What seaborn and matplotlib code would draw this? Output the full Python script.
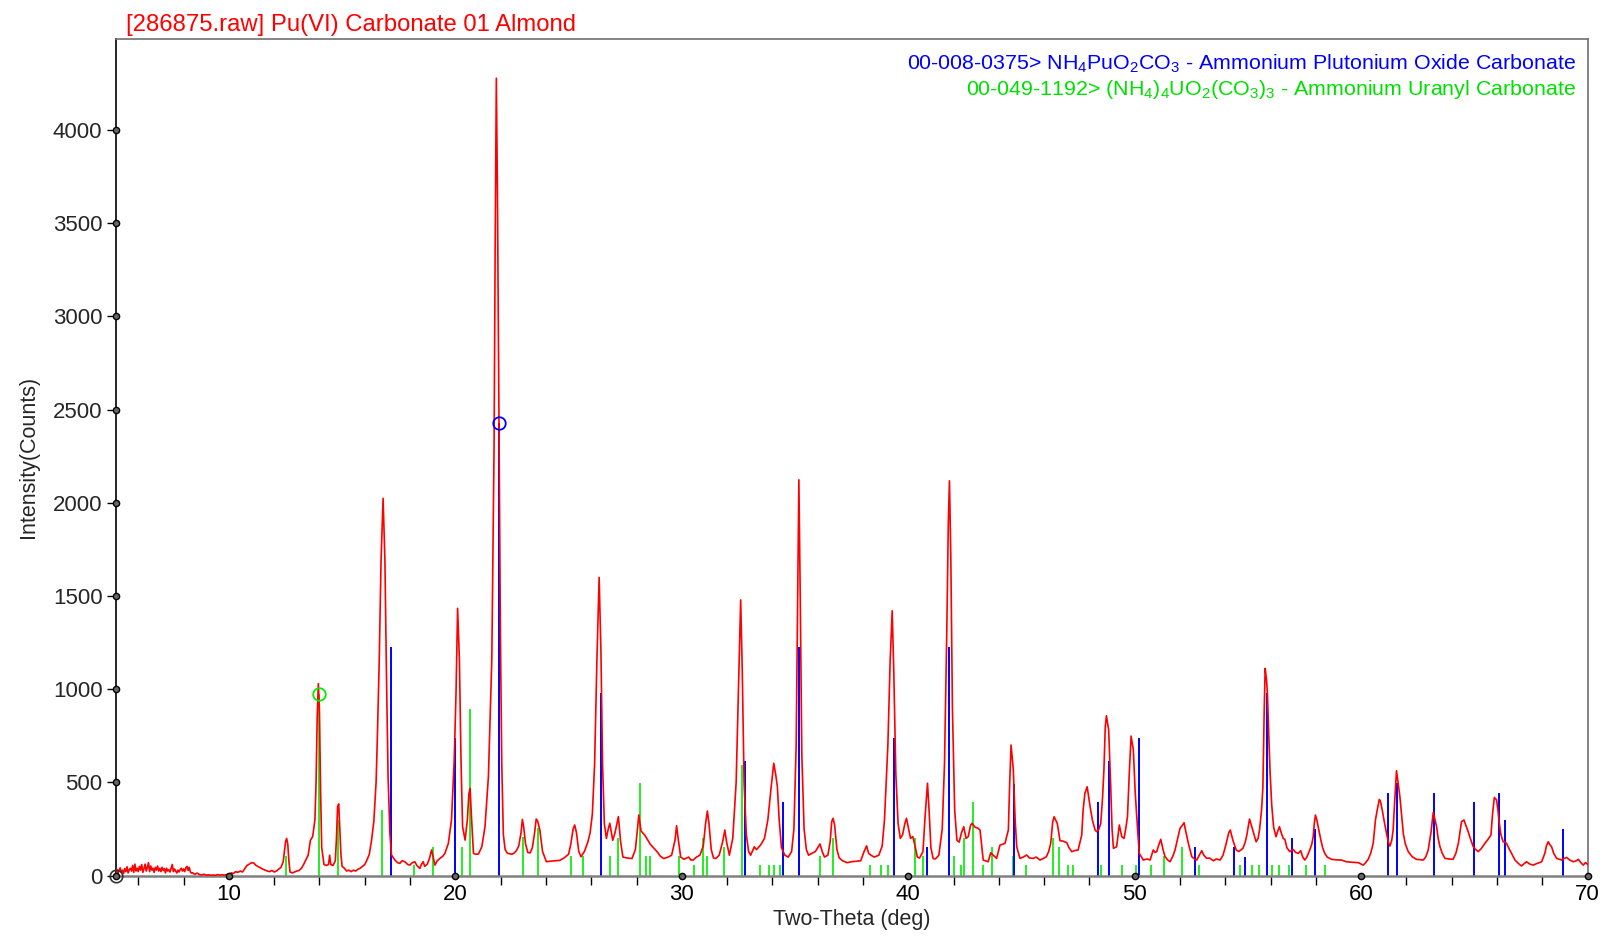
import matplotlib
matplotlib.use("Agg")
import matplotlib.pyplot as plt
import seaborn as sns
import pandas as pd

# ---------------- data ----------------
two_theta = [
    5.00, 5.05, 5.10, 5.15, 5.20, 5.25, 5.30, 5.35, 5.40, 5.45, 5.50, 5.55, 5.60, 5.65, 5.70, 5.75,
    5.80, 5.85, 5.90, 5.95, 6.00, 6.05, 6.10, 6.15, 6.20, 6.25, 6.30, 6.35, 6.40, 6.45, 6.50, 6.55,
    6.60, 6.65, 6.70, 6.75, 6.80, 6.85, 6.90, 6.95, 7.00, 7.05, 7.10, 7.15, 7.20, 7.25, 7.30, 7.35,
    7.40, 7.45, 7.50, 7.55, 7.60, 7.65, 7.70, 7.75, 7.80, 7.85, 7.90, 7.95, 8.00, 8.05, 8.10, 8.15,
    8.20, 8.25, 8.30, 8.35, 8.40, 8.45, 8.50, 8.60, 8.70, 8.80, 8.90, 9.00, 9.10, 9.20, 9.30, 9.40,
    9.50, 9.60, 9.70, 9.80, 9.90, 10.00, 10.10, 10.20, 10.30, 10.40, 10.50, 10.60, 10.70, 10.80,
    10.90, 11.00, 11.10, 11.20, 11.30, 11.40, 11.50, 11.60, 11.70, 11.80, 11.90, 12.00, 12.10,
    12.20, 12.30, 12.40, 12.50, 12.55, 12.60, 12.65, 12.70, 12.80, 12.90, 13.00, 13.10, 13.20,
    13.30, 13.40, 13.50, 13.60, 13.70, 13.80, 13.85, 13.90, 13.95, 14.00, 14.05, 14.10, 14.20,
    14.30, 14.40, 14.45, 14.50, 14.60, 14.70, 14.75, 14.80, 14.85, 14.90, 14.95, 15.00, 15.10,
    15.20, 15.30, 15.40, 15.50, 15.60, 15.70, 15.80, 15.90, 16.00, 16.10, 16.20, 16.30, 16.40,
    16.50, 16.55, 16.64, 16.72, 16.81, 16.89, 16.96, 17.03, 17.11, 17.18, 17.33, 17.45, 17.55,
    17.65, 17.77, 17.90, 17.99, 18.10, 18.21, 18.30, 18.43, 18.50, 18.58, 18.65, 18.76, 18.85,
    18.95, 19.02, 19.10, 19.20, 19.32, 19.45, 19.54, 19.69, 19.83, 19.95, 20.03, 20.10, 20.18,
    20.25, 20.32, 20.43, 20.53, 20.60, 20.65, 20.72, 20.80, 20.90, 21.02, 21.17, 21.31, 21.46,
    21.61, 21.71, 21.76, 21.81, 21.86, 21.93, 21.99, 22.05, 22.12, 22.20, 22.30, 22.40, 22.50,
    22.60, 22.70, 22.80, 22.90, 22.96, 23.02, 23.10, 23.20, 23.30, 23.40, 23.50, 23.57, 23.63,
    23.73, 23.85, 24.02, 24.20, 24.40, 24.60, 24.80, 25.00, 25.10, 25.20, 25.27, 25.35, 25.45,
    25.55, 25.70, 25.85, 25.95, 26.05, 26.15, 26.25, 26.35, 26.43, 26.50, 26.58, 26.67, 26.75,
    26.82, 26.95, 27.05, 27.20, 27.30, 27.40, 27.60, 27.80, 27.95, 28.05, 28.10, 28.20, 28.38,
    28.50, 28.60, 28.75, 28.90, 29.05, 29.20, 29.40, 29.55, 29.70, 29.77, 29.85, 29.95, 30.10,
    30.30, 30.40, 30.50, 30.65, 30.80, 30.95, 31.05, 31.13, 31.20, 31.30, 31.40, 31.50, 31.65,
    31.80, 31.90, 31.98, 32.10, 32.25, 32.40, 32.50, 32.60, 32.67, 32.75, 32.85, 32.95, 33.04,
    33.20, 33.30, 33.48, 33.65, 33.80, 33.95, 34.06, 34.15, 34.22, 34.30, 34.40, 34.55, 34.70,
    34.85, 34.95, 35.05, 35.12, 35.17, 35.23, 35.30, 35.40, 35.50, 35.60, 35.75, 35.90, 36.00,
    36.10, 36.20, 36.30, 36.45, 36.55, 36.62, 36.68, 36.75, 36.85, 36.95, 37.10, 37.30, 37.50,
    37.75, 37.90, 38.05, 38.16, 38.25, 38.35, 38.50, 38.70, 38.85, 38.95, 39.10, 39.20, 39.29,
    39.36, 39.45, 39.55, 39.65, 39.75, 39.85, 39.92, 40.00, 40.10, 40.20, 40.30, 40.40, 40.50,
    40.65, 40.75, 40.85, 40.92, 41.00, 41.10, 41.20, 41.35, 41.50, 41.60, 41.70, 41.77, 41.82,
    41.88, 41.95, 42.05, 42.15, 42.25, 42.35, 42.45, 42.55, 42.65, 42.75, 42.82, 42.95, 43.08,
    43.17, 43.31, 43.53, 43.64, 43.75, 43.90, 44.05, 44.27, 44.42, 44.48, 44.54, 44.64, 44.72,
    44.79, 44.93, 45.08, 45.23, 45.35, 45.52, 45.65, 45.82, 46.00, 46.10, 46.20, 46.29, 46.38,
    46.44, 46.58, 46.70, 46.85, 47.00, 47.10, 47.22, 47.35, 47.50, 47.66, 47.72, 47.80, 47.90,
    48.03, 48.13, 48.25, 48.32, 48.42, 48.50, 48.58, 48.64, 48.70, 48.75, 48.85, 48.94, 49.00,
    49.06, 49.20, 49.32, 49.43, 49.53, 49.60, 49.68, 49.76, 49.84, 49.94, 50.02, 50.09, 50.20,
    50.38, 50.55, 50.68, 50.82, 50.90, 50.97, 51.05, 51.15, 51.25, 51.34, 51.45, 51.56, 51.70,
    51.78, 51.90, 52.00, 52.10, 52.18, 52.25, 52.37, 52.52, 52.64, 52.74, 52.85, 52.96, 53.05,
    53.18, 53.30, 53.48, 53.60, 53.77, 53.90, 54.04, 54.15, 54.22, 54.34, 54.48, 54.60, 54.78,
    54.88, 54.95, 55.07, 55.15, 55.21, 55.36, 55.45, 55.51, 55.60, 55.66, 55.72, 55.76, 55.82,
    55.86, 55.92, 55.98, 56.05, 56.13, 56.24, 56.32, 56.39, 56.47, 56.56, 56.63, 56.72, 56.85,
    57.00, 57.10, 57.22, 57.33, 57.42, 57.51, 57.60, 57.73, 57.82, 57.88, 57.93, 57.98, 58.04,
    58.10, 58.22, 58.30, 58.39, 58.50, 58.69, 58.90, 59.13, 59.35, 59.60, 59.87, 60.00, 60.09,
    60.20, 60.31, 60.42, 60.53, 60.63, 60.72, 60.80, 60.85, 60.93, 61.02, 61.12, 61.20, 61.27,
    61.35, 61.41, 61.48, 61.56, 61.63, 61.71, 61.78, 61.86, 61.95, 62.08, 62.25, 62.35, 62.44,
    62.60, 62.74, 62.85, 62.96, 63.08, 63.18, 63.26, 63.33, 63.40, 63.48, 63.58, 63.70, 63.85,
    64.06, 64.18, 64.29, 64.36, 64.43, 64.54, 64.62, 64.70, 64.82, 64.95, 65.06, 65.17, 65.30,
    65.46, 65.60, 65.73, 65.80, 65.88, 65.98, 66.04, 66.08, 66.17, 66.27, 66.35, 66.42, 66.53,
    66.64, 66.79, 66.95, 67.08, 67.20, 67.30, 67.45, 67.60, 67.75, 67.87, 67.97, 68.05, 68.11,
    68.18, 68.26, 68.34, 68.41, 68.50, 68.63, 68.75, 68.85, 68.95, 69.07, 69.20, 69.37, 69.50,
    69.59, 69.70, 69.81, 69.90, 69.96, 70.00,
]
counts = [
    15, 35, 10, 28, 42, 18, 30, 12, 38, 22, 48, 15, 32, 40, 25, 55,
    18, 62, 25, 40, 22, 50, 30, 60, 18, 38, 62, 25, 45, 70, 22, 52,
    30, 40, 18, 45, 30, 52, 25, 40, 22, 45, 28, 38, 15, 40, 25, 32,
    20, 40, 60, 22, 36, 25, 15, 30, 20, 32, 40, 25, 36, 22, 42, 50,
    28, 45, 20, 14, 16, 10, 8, 14, 6, 4, 8, 3, 5, 2, 4, 2,
    6, 3, 5, 3, 6, 8, 15, 12, 22, 18, 25, 20, 38, 55,
    62, 70, 68, 55, 48, 42, 35, 30, 25, 22, 28, 20, 25,
    35, 45, 75, 180, 200, 170, 80, 20, 15, 20, 25, 28, 40,
    60, 85, 110, 190, 210, 300, 500, 850, 1030, 880, 450, 150, 60,
    55, 60, 110, 60, 55, 80, 200, 370, 385, 250, 110, 50, 40,
    25, 30, 22, 30, 25, 35, 40, 50, 60, 85, 115, 190, 290,
    500, 710, 1157, 1693, 2024, 1693, 1067, 531, 227, 111, 84, 70, 66,
    80, 75, 60, 57, 70, 75, 55, 39, 60, 75, 50, 62, 90,
    138, 100, 57, 80, 93, 105, 120, 173, 299, 620, 978, 1434, 1157,
    620, 263, 191, 299, 440, 469, 299, 120, 115, 116, 156, 263, 531,
    1157, 2300, 3400, 4277, 3650, 2420, 1300, 600, 220, 140, 120, 118, 115,
    122, 135, 160, 230, 302, 260, 170, 125, 122, 150, 230, 304, 295,
    246, 130, 75, 78, 80, 82, 95, 115, 170, 250, 272, 230, 130,
    102, 130, 180, 229, 330, 600, 1150, 1600, 1200, 600, 280, 200, 250,
    281, 190, 230, 317, 180, 100, 95, 92, 140, 260, 326, 240, 215,
    190, 170, 150, 130, 105, 92, 100, 110, 190, 268, 190, 100, 88,
    100, 84, 84, 100, 110, 160, 280, 347, 280, 140, 95, 92, 110,
    180, 245, 180, 110, 200, 500, 1000, 1479, 1100, 500, 220, 130, 110,
    155, 140, 165, 200, 300, 480, 603, 540, 478, 300, 150, 110, 100,
    130, 250, 700, 1500, 2123, 1500, 650, 250, 140, 110, 120, 130, 150,
    170, 130, 100, 110, 180, 290, 308, 270, 140, 96, 80, 70, 75,
    78, 80, 130, 160, 120, 110, 100, 110, 160, 300, 700, 1150, 1421,
    1100, 550, 280, 200, 220, 280, 308, 260, 200, 210, 160, 100, 95,
    130, 330, 496, 350, 150, 92, 90, 110, 250, 600, 1300, 1900, 2118,
    1700, 900, 350, 190, 180, 230, 263, 200, 210, 270, 281, 260, 255,
    245, 84, 75, 123, 110, 93, 164, 173, 245, 500, 701, 567, 300,
    155, 93, 100, 111, 95, 93, 100, 84, 95, 102, 130, 173, 290,
    316, 281, 188, 185, 177, 150, 129, 135, 138, 218, 350, 442, 477,
    370, 299, 245, 236, 250, 281, 420, 567, 800, 858, 781, 477, 250,
    147, 155, 272, 209, 200, 250, 316, 550, 749, 674, 450, 316, 120,
    84, 90, 84, 138, 125, 129, 160, 195, 140, 102, 85, 75, 110,
    138, 200, 254, 270, 284, 240, 173, 102, 90, 84, 110, 134, 110,
    93, 95, 80, 90, 84, 110, 173, 230, 245, 188, 138, 130, 147,
    180, 218, 304, 270, 245, 182, 200, 245, 350, 477, 900, 1112, 1050,
    978, 750, 549, 380, 263, 209, 240, 263, 230, 200, 195, 150, 129,
    141, 125, 120, 134, 100, 84, 100, 138, 170, 209, 280, 325, 300,
    263, 191, 150, 120, 100, 88, 85, 84, 75, 72, 70, 62, 57,
    70, 88, 120, 173, 299, 360, 409, 400, 352, 290, 227, 180, 159,
    190, 245, 400, 563, 500, 424, 330, 227, 170, 129, 102, 95, 88,
    86, 84, 100, 138, 230, 338, 300, 263, 200, 155, 120, 93, 90,
    88, 120, 173, 230, 290, 299, 270, 245, 200, 155, 140, 129, 145,
    173, 195, 218, 330, 420, 406, 350, 299, 220, 182, 180, 173, 145,
    120, 84, 65, 52, 65, 75, 62, 57, 65, 70, 75, 100, 120,
    160, 182, 165, 155, 120, 93, 88, 84, 92, 98, 85, 75, 80,
    88, 70, 57, 70, 66, 60,
]

# 00-008-0375 NH4PuO2CO3 reference lines
pu_pos = [17.15, 19.99, 21.93, 26.45, 32.81, 34.46, 35.18, 39.37, 40.84, 41.82, 44.68, 48.39,
          48.87, 50.18, 52.68, 54.39, 54.89, 55.83, 56.95, 57.98, 61.19, 61.59, 63.20, 64.99,
          66.08, 66.35, 68.92]
pu_int = [1225, 738, 2427, 978, 617, 394, 1225, 737, 156, 1225, 492, 393,
          615, 737, 152, 152, 102, 978, 200, 249, 442, 495, 442, 393,
          442, 299, 249]

# 00-049-1192 (NH4)4UO2(CO3)3 reference lines
u_pos = [12.54, 13.98, 14.84, 16.77, 18.19, 19.01, 20.28, 20.66, 22.99, 23.63, 25.10, 25.64,
         26.85, 27.19, 28.16, 28.42, 28.60, 29.88, 30.52, 30.95, 31.12, 31.87, 32.66, 33.46,
         33.87, 34.07, 34.35, 35.18, 36.12, 36.68, 38.30, 38.80, 39.10, 40.28, 40.63, 42.03,
         42.31, 42.45, 42.84, 43.30, 43.68, 44.64, 45.20, 46.41, 46.67, 47.04, 47.29, 48.50,
         49.43, 50.06, 50.71, 51.31, 52.08, 52.83, 54.65, 55.17, 55.51, 56.05, 56.35, 56.83,
         57.58, 58.39]
u_int = [105, 973, 299, 352, 57, 156, 156, 892, 207, 256, 106, 106,
         106, 204, 496, 106, 106, 106, 55, 204, 106, 154, 594, 55,
         55, 55, 55, 106, 106, 204, 55, 55, 55, 204, 106, 106,
         55, 204, 397, 55, 152, 105, 55, 200, 152, 55, 55, 55,
         55, 55, 55, 105, 152, 55, 55, 55, 55, 55, 55, 55,
         55, 55]

x_major = [10, 20, 30, 40, 50, 60, 70]
x_minor = [6, 8, 12, 14, 16, 18, 22, 24, 26, 28, 32, 34, 36, 38, 42, 44, 46, 48,
           52, 54, 56, 58, 62, 64, 66, 68]
y_major = [0, 500, 1000, 1500, 2000, 2500, 3000, 3500, 4000]

title_text = "[286875.raw] Pu(VI) Carbonate 01 Almond"
pu_label = r"00-008-0375> NH$_4$PuO$_2$CO$_3$ - Ammonium Plutonium Oxide Carbonate"
u_label = r"00-049-1192> (NH$_4$)$_4$UO$_2$(CO$_3$)$_3$ - Ammonium Uranyl Carbonate"

# ---------------- style ----------------
sns.set_theme(style="white")
plt.rcParams['font.family'] = ['Liberation Sans', 'DejaVu Sans']
plt.rcParams['mathtext.fontset'] = 'custom'
plt.rcParams['mathtext.rm'] = 'Liberation Sans'
plt.rcParams['mathtext.it'] = 'Liberation Sans:italic'
plt.rcParams['mathtext.bf'] = 'Liberation Sans:bold'

RED = '#ff0000'
BLUE = '#0000ff'
GREEN = '#00ee00'

fig = plt.figure(figsize=(16.04, 9.39), dpi=100)
ax = fig.add_axes([0.0721, 0.0674, 0.9177, 0.8912])

ax.vlines(u_pos, 0, u_int, color='#22ee22', lw=1.4, zorder=2)
ax.vlines(pu_pos, 0, pu_int, color=BLUE, lw=1.4, zorder=2)

df = pd.DataFrame({'two_theta': two_theta, 'counts': counts})
sns.lineplot(data=df, x='two_theta', y='counts', color=RED, lw=1.2, ax=ax,
             sort=False, estimator=None, zorder=3)

# markers on strongest reference lines
ax.plot([u_pos[1]], [u_int[1]], 'o', ms=9, mfc='none', mec=GREEN, mew=1.3, zorder=4)
ax.plot([pu_pos[2]], [pu_int[2]], 'o', ms=9, mfc='none', mec=BLUE, mew=1.3, zorder=4)

ax.set_xlim(5, 70)
ax.set_ylim(0, 4488)

ax.set_xticks(x_major)
ax.set_xticks(x_minor, minor=True)
ax.set_yticks(y_major)
ax.tick_params(axis='x', which='major', length=0, pad=6, labelsize=16, colors='black')
ax.tick_params(axis='x', which='minor', length=6.5, width=1.0, direction='out',
               color='black', bottom=True)
ax.tick_params(axis='y', which='major', length=6.5, width=1.0, direction='out',
               pad=3, labelsize=16, color='black', left=True)

# dots at tick positions on the axes
ax.plot(x_major, [0] * len(x_major), 'o', ms=4.5, mfc='#666666', mec='black', mew=1.0,
        clip_on=False, zorder=6)
ax.plot([5] * len(y_major), y_major, 'o', ms=4.5, mfc='#666666', mec='black', mew=1.0,
        clip_on=False, zorder=6)
ax.plot([5], [0], 'o', ms=9, mfc='none', mec='#333333', mew=1.2, clip_on=False, zorder=6)

ax.set_xlabel("Two-Theta (deg)", fontsize=15.5, labelpad=3)
ax.set_ylabel("Intensity(Counts)", fontsize=15.5, labelpad=10)

for side in ['top', 'right']:
    ax.spines[side].set_color('#707070')
    ax.spines[side].set_linewidth(1.2)
ax.spines['bottom'].set_color('#808080')
ax.spines['bottom'].set_linewidth(1.8)
ax.spines['left'].set_color('black')
ax.spines['left'].set_linewidth(1.2)

fig.text(0.0786, 0.967, title_text, color=RED, fontsize=17.2, ha='left', va='baseline')
fig.text(0.9826, 0.9259, pu_label, color=BLUE, fontsize=15.4, ha='right', va='baseline')
fig.text(0.9826, 0.8988, u_label, color='#00e000', fontsize=15.4, ha='right', va='baseline')

fig.savefig("out.png", dpi=100)
